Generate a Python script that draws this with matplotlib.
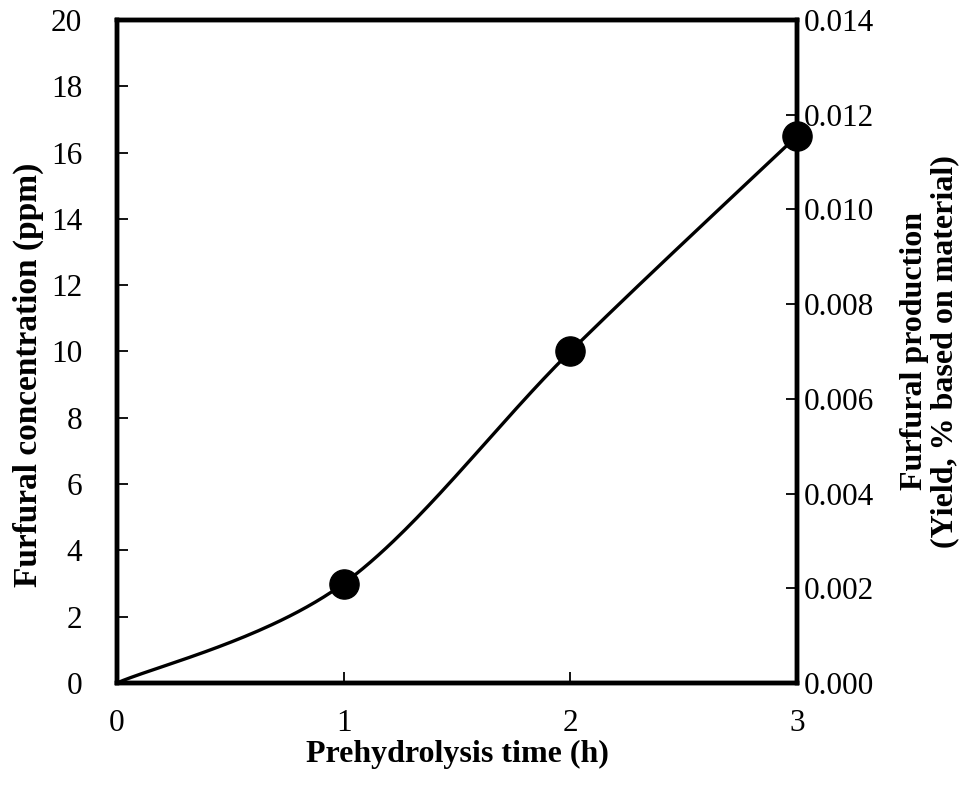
import matplotlib.pyplot as plt
import numpy as np

plt.rcParams['font.family'] = ['Liberation Serif', 'DejaVu Serif']

# data
time_h = [0, 1, 2, 3]
furfural_ppm = [0, 3, 10, 16.5]
marker_idx = [1, 2, 3]
yield_ticks = [0.000, 0.002, 0.004, 0.006, 0.008, 0.010, 0.012, 0.014]


def smooth(x, y, n=60):
    # excel-like smoothed line (catmull-rom bezier)
    x = np.asarray(x, float)
    y = np.asarray(y, float)
    px = np.concatenate([[x[0]], x, [x[-1]]])
    py = np.concatenate([[y[0]], y, [y[-1]]])
    xs, ys = [], []
    t = np.linspace(0, 1, n)
    for i in range(1, len(px) - 2):
        p0 = np.array([px[i], py[i]])
        p3 = np.array([px[i + 1], py[i + 1]])
        p1 = p0 + (np.array([px[i + 1], py[i + 1]]) - np.array([px[i - 1], py[i - 1]])) / 6
        p2 = p3 - (np.array([px[i + 2], py[i + 2]]) - np.array([px[i], py[i]])) / 6
        b = ((1 - t) ** 3)[:, None] * p0 + (3 * (1 - t) ** 2 * t)[:, None] * p1 \
            + (3 * (1 - t) * t ** 2)[:, None] * p2 + (t ** 3)[:, None] * p3
        xs.extend(b[:, 0])
        ys.extend(b[:, 1])
    return xs, ys


fig = plt.figure(figsize=(9.68, 7.85), dpi=100)
ax = fig.add_axes([0.1209, 0.13, 0.7024, 0.8445])

sx, sy = smooth(time_h, furfural_ppm)
ax.plot(sx, sy, color='black', lw=2.4, solid_capstyle='round')
ax.plot([time_h[i] for i in marker_idx], [furfural_ppm[i] for i in marker_idx],
        'o', color='black', ms=21, clip_on=False, zorder=5)

ax.set_xlim(0, 3)
ax.set_ylim(0, 20)
ax.set_xticks([0, 1, 2, 3])
ax.set_yticks(range(0, 21, 2))
ax.tick_params(direction='in', length=8, width=1.3, labelsize=22.5)
ax.tick_params(axis='x', pad=19)
ax.tick_params(axis='y', pad=25)
for s in ax.spines.values():
    s.set_linewidth(3.2)

ax.set_xlabel('Prehydrolysis time (h)', fontsize=23, fontweight='bold', labelpad=1)
ax.set_ylabel('Furfural concentration (ppm)', fontsize=24, fontweight='bold')
ax.yaxis.set_label_coords(-0.107, 0.465)

ax2 = ax.twinx()
ax2.set_ylim(0, 0.014)
ax2.set_yticks(yield_ticks)
ax2.set_yticklabels(['%.3f' % v for v in yield_ticks])
ax2.tick_params(direction='in', length=8, width=1.3, labelsize=22.5, pad=5)
for s in ax2.spines.values():
    s.set_linewidth(3.2)
ax2.set_ylabel('Furfural production\n(Yield, % based on material)', fontsize=23,
               fontweight='bold', rotation=90, linespacing=1.05)
ax2.yaxis.set_label_coords(1.152, 0.5)

fig.savefig('out.png', dpi=100)
